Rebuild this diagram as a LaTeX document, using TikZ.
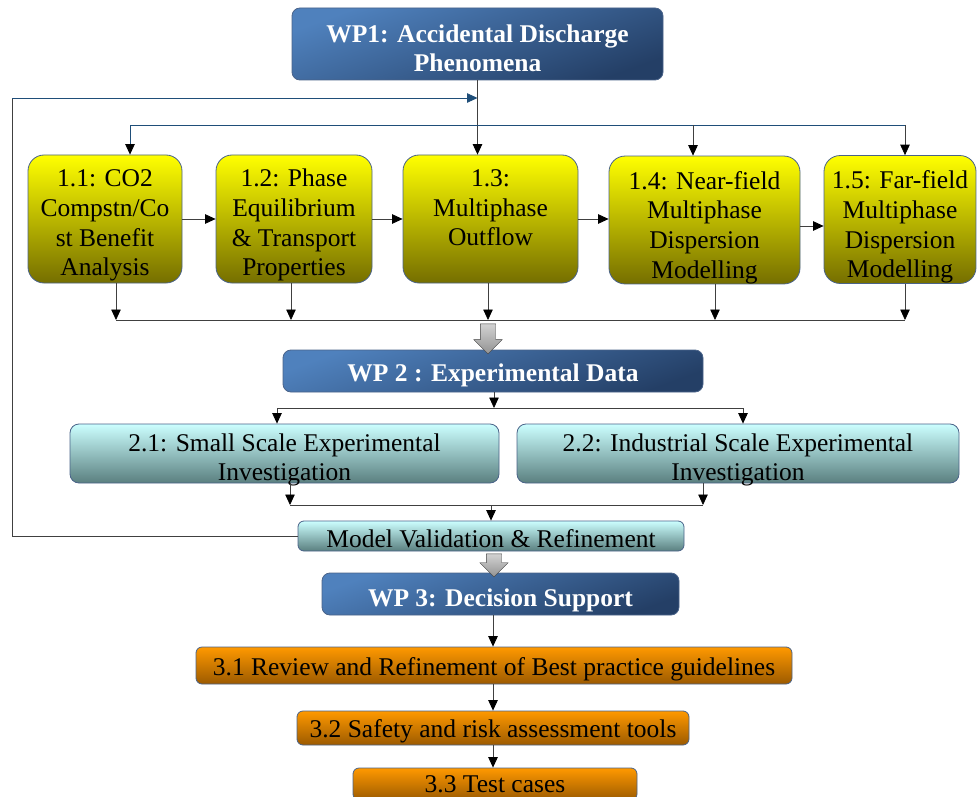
\documentclass[tikz,border=0pt]{standalone}
\usepackage{fontspec}
\setmainfont{Liberation Serif}
\usetikzlibrary{arrows.meta,shapes.arrows}

\definecolor{wptop}{HTML}{4F81BD}
\definecolor{wpbot}{HTML}{243F66}
\definecolor{ylwtop}{HTML}{FFFF00}
\definecolor{ylwbot}{HTML}{756E00}
\definecolor{cyntop}{HTML}{CCFFFF}
\definecolor{cynbot}{HTML}{5A7F7F}
\definecolor{orgtop}{HTML}{FF9900}
\definecolor{orgbot}{HTML}{9C5A00}
\definecolor{rim}{HTML}{4A6389}
\definecolor{fbline}{HTML}{1F4E79}
\definecolor{darkline}{HTML}{404040}

% raises the first line of a box so its text sits lower
\newcommand{\topstrut}[1]{\rule{0pt}{#1}}

\tikzset{
  box/.style={draw=rim, line width=0.8pt, align=center, inner sep=0pt,
    text=black, font=\fontsize{25.5}{29.8}\selectfont},
  wpbox/.style={box, rounded corners=8pt, top color=wptop, bottom color=wpbot,
    shading angle=20, text=white, font=\bfseries\fontsize{25.5}{29}\selectfont},
  taskbox/.style={box, rounded corners=16pt, top color=ylwtop, bottom color=ylwbot},
  expbox/.style={box, rounded corners=9pt, top color=cyntop, bottom color=cynbot},
  supbox/.style={box, rounded corners=6pt, top color=orgtop, bottom color=orgbot},
  line/.style={draw=darkline, line width=0.8pt},
  flow/.style={line, -{Triangle[length=10.5pt,width=9.5pt,color=black]}},
  bigarrow/.style={single arrow, shape border rotate=270, draw=gray!50!black,
    top color=gray!35, bottom color=gray!85, inner sep=7.5pt,
    single arrow head extend=6.5pt, minimum width=28pt}
}

\begin{document}
\begin{tikzpicture}[x=1pt,y=-1pt]
  \useasboundingbox (0,0) rectangle (977,797);

  % Work package 1
  \node[wpbox, minimum width=371pt, minimum height=72pt] (wp1) at (477.5,44)
    {\topstrut{25.5pt}WP1: Accidental Discharge\\Phenomena};

  % Tasks of WP1
  \node[taskbox, minimum width=154pt, minimum height=128pt] (t11) at (105,219)
    {\topstrut{30pt}1.1: CO2\\Compstn/Co\\st Benefit\\Analysis};
  \node[taskbox, minimum width=156pt, minimum height=128pt] (t12) at (294,219)
    {\topstrut{30pt}1.2: Phase\\Equilibrium\\\& Transport\\Properties};
  \node[taskbox, minimum width=175pt, minimum height=128pt] (t13) at (490.5,219)
    {\topstrut{30pt}1.3:\\Multiphase\\Outflow\\\rule[-6pt]{0pt}{6pt}};
  \node[taskbox, minimum width=191pt, minimum height=126pt] (t14) at (704.5,220)
    {\topstrut{33pt}1.4: Near-field\\Multiphase\\Dispersion\\Modelling};
  \node[taskbox, minimum width=152pt, minimum height=127pt] (t15) at (900,219.5)
    {\topstrut{33pt}1.5: Far-field\\Multiphase\\Dispersion\\Modelling};

  % Work package 2 and its tasks
  \node[wpbox, minimum width=420pt, minimum height=42pt] (wp2) at (493,371)
    {\topstrut{25.5pt}WP 2 : Experimental Data};
  \node[expbox, text height=54.6pt, text depth=0pt, minimum width=429pt, minimum height=59pt] (t21) at (284.5,453.5)
    {2.1: Small Scale Experimental\\Investigation};
  \node[expbox, text height=54.6pt, text depth=0pt, minimum width=442pt, minimum height=59pt] (t22) at (738,453.5)
    {2.2: Industrial Scale Experimental\\Investigation};
  \node[expbox, rounded corners=6pt, minimum width=386pt, minimum height=30pt] (mv) at (491,536)
    {\topstrut{23.5pt}Model Validation \& Refinement};

  % Work package 3 and its tasks
  \node[wpbox, minimum width=357pt, minimum height=42pt] (wp3) at (500.5,594)
    {\topstrut{29.5pt}WP 3: Decision Support};
  \node[supbox, minimum width=596pt, minimum height=37pt] (t31) at (494,665.5)
    {\topstrut{25.5pt}3.1 Review and Refinement of Best practice guidelines};
  \node[supbox, minimum width=392pt, minimum height=34pt] (t32) at (493,728)
    {\topstrut{23.5pt}3.2 Safety and risk assessment tools};
  \node[supbox, minimum width=284pt, minimum height=32pt] (t33) at (495,784)
    {\topstrut{18pt}3.3 Test cases};

  % WP1 feeds the tasks
  \coordinate (dl) at (130,125);
  \coordinate (dm) at (693,125);
  \coordinate (dr) at (905,125);
  \draw[flow] (wp1.south) -- (wp1.south |- t13.north);
  \draw[flow, draw=fbline] (dr) -- (dl) -- (dl |- t11.north);
  \draw[flow] (dm) -- (dm |- t14.north);
  \draw[flow] (dr) -- (dr |- t15.north);

  % Chain of tasks
  \draw[flow] (t11.east) -- (t11.east -| t12.west);
  \draw[flow] (t12.east) -- (t12.east -| t13.west);
  \draw[flow] (t13.east) -- (t13.east -| t14.west);
  \draw[flow] ([yshift=-6pt]t14.east) -- ([yshift=-6pt]t14.east -| t15.west);

  % Tasks collected into WP2
  \coordinate (c1) at (116,320);
  \coordinate (c2) at (291,320);
  \coordinate (c3) at (488,320);
  \coordinate (c4) at (715,320);
  \coordinate (c5) at (905,320);
  \foreach \t/\c in {t11/c1,t12/c2,t13/c3,t14/c4,t15/c5}
    \draw[flow] (\c |- \t.south) -- (\c);
  \draw[line] (c1) -- (c5);
  \node[bigarrow, minimum height=30pt] (ba1) at (488,335) {};

  % WP2 split into experiments
  \coordinate (s0) at (494,408);
  \coordinate (s1) at (277,408);
  \coordinate (s2) at (743,408);
  \draw[flow] (s0 |- wp2.south) -- (s0);
  \draw[line] (s1) -- (s2);
  \draw[flow] (s1) -- (s1 |- t21.north);
  \draw[flow] (s2) -- (s2 |- t22.north);

  % Experiments merged into validation
  \coordinate (m0) at (491,505);
  \coordinate (m1) at (290,505);
  \coordinate (m2) at (703,505);
  \draw[flow] (m1 |- t21.south) -- (m1);
  \draw[flow] (m2 |- t22.south) -- (m2);
  \draw[line] (m1) -- (m2);
  \draw[flow] (m0) -- (m0 |- mv.north);

  % Feedback loop back to WP1
  \coordinate (fb) at (12,98);
  \draw[line] (mv.west) -| (fb);
  \draw[line, draw=fbline, -{Triangle[length=10.5pt,width=9.5pt,color=fbline]}]
    (fb) -- (fb -| wp1.south);

  % Validation into WP3 and its tasks
  \node[bigarrow, minimum height=21pt] (ba2) at (494,561.5) {};
  \coordinate (v) at (493,0);
  \draw[flow] (v |- wp3.south) -- (v |- t31.north);
  \draw[flow] (v |- t31.south) -- (v |- t32.north);
  \draw[flow] (v |- t32.south) -- (v |- t33.north);
\end{tikzpicture}
\end{document}
